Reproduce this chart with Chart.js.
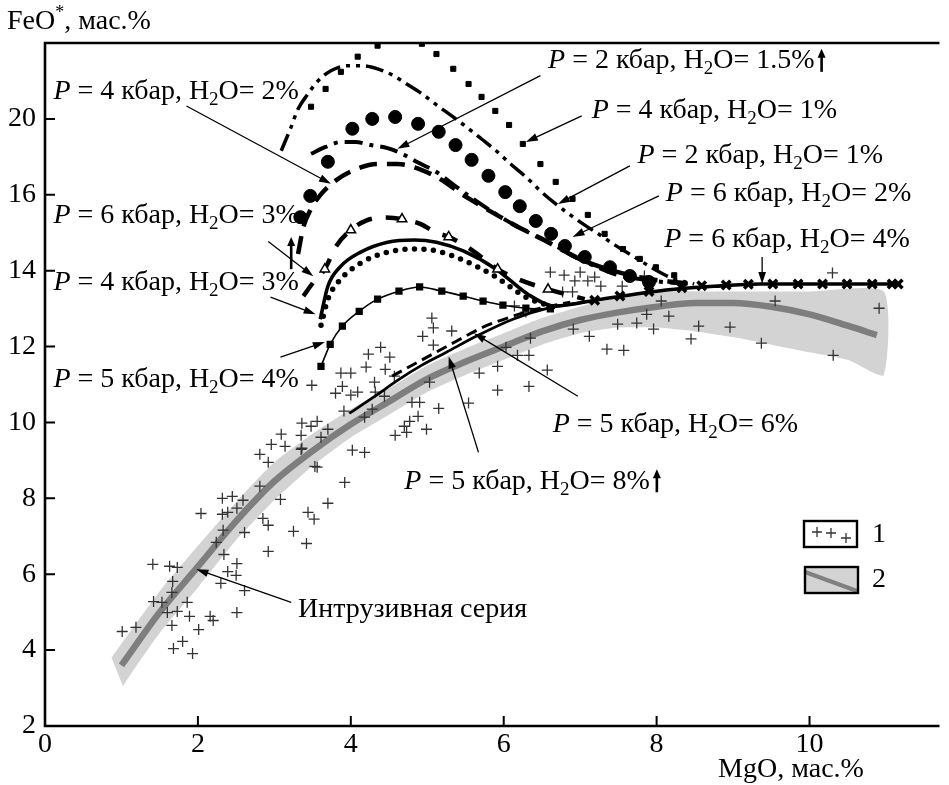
<!DOCTYPE html>
<html>
<head>
<meta charset="utf-8">
<script src="https://cdn.jsdelivr.net/npm/chart.js@4.4.1/dist/chart.umd.min.js"></script>
<style>
  html, body { margin: 0; padding: 0; background: #fff; }
  #wrap { width: 949px; height: 785px; position: relative; }
</style>
</head>
<body>
<div id="wrap"><canvas id="chart"></canvas></div>
<script>
// axes
const xTicks = [0, 2, 4, 6, 8, 10];
const yTicks = [2, 4, 6, 8, 10, 12, 14, 16, 18];
const yTickLabels = ["2", "4", "6", "8", "10", "12", "14", "16", "20"];

// intrusive series trend (2) and its band
const trendX = [1.0, 1.5, 2.0, 2.5, 3.0, 3.5, 4.0, 4.5, 5.0, 5.5, 6.0, 6.5, 7.0, 7.5, 8.0, 8.5, 9.0, 9.5, 10.0, 10.5, 10.88];
const trendY = [3.6, 5.0, 6.2, 7.4, 8.45, 9.25, 9.95, 10.55, 11.15, 11.6, 12.0, 12.4, 12.7, 12.9, 13.05, 13.15, 13.15, 13.05, 12.85, 12.55, 12.3];
const bandTopX = [0.87, 1.5, 2.0, 2.5, 3.0, 3.5, 4.0, 4.5, 5.0, 5.5, 6.0, 6.5, 7.0, 7.5, 8.0, 9.0, 10.0, 10.97];
const bandTopY = [3.8, 5.55, 6.75, 7.9, 8.95, 9.7, 10.35, 10.9, 11.5, 11.95, 12.35, 12.75, 13.05, 13.3, 13.45, 13.45, 13.45, 13.45];
const bandBotX = [10.97, 10.5, 10.0, 9.5, 9.0, 8.5, 8.0, 7.5, 7.0, 6.5, 6.0, 5.5, 5.0, 4.5, 4.0, 3.5, 3.0, 2.5, 2.0, 1.5, 1.15, 1.02];
const bandBotY = [11.25, 11.65, 11.85, 12.05, 12.25, 12.4, 12.5, 12.5, 12.35, 12.05, 11.65, 11.25, 10.8, 10.2, 9.6, 8.85, 7.95, 6.9, 5.65, 4.45, 3.45, 3.05];

// intrusive series samples (1)
const crossX = [1.01, 1.19, 1.41, 1.63, 1.73, 1.67, 1.66, 1.42, 1.53, 1.60, 1.73, 1.86, 1.89, 1.66, 2.01, 1.68, 1.80, 1.93, 2.16, 2.20,
  2.51, 2.61, 2.30, 2.39, 2.50, 2.51, 2.34, 2.24, 2.33, 2.61, 2.32, 2.39, 2.51, 2.04, 2.32, 2.45, 2.59, 2.81, 2.85, 2.92,
  2.92, 3.08, 3.25, 3.42, 3.44, 3.52, 2.81, 2.92, 2.96, 3.09, 3.14, 3.35, 3.35, 3.53, 5.06, 5.08, 4.94, 5.32, 5.08, 4.39,
  4.23, 4.51, 4.20, 4.45, 3.87, 4.00, 4.31, 4.57, 3.49, 3.89, 3.80, 4.00, 4.09, 4.32, 4.28, 4.44, 3.91, 4.18, 3.56, 3.36,
  3.70, 3.61, 3.48, 3.36, 4.80, 4.90, 5.15, 4.77, 4.88, 4.70, 4.58, 4.73, 4.99, 5.03, 5.54, 5.68, 5.92, 5.92, 6.33, 6.57,
  6.03, 6.18, 6.33, 6.35, 6.91, 7.12, 7.35, 4.02, 4.18, 3.56, 3.92, 6.61, 6.79, 7.00, 7.19, 6.93, 7.10, 6.77, 6.90, 7.27,
  6.14, 6.29, 3.70, 7.55, 7.84, 7.87, 8.06, 8.16, 7.49, 7.74, 7.96, 7.57, 8.55, 8.45, 8.96, 9.37, 9.55, 10.30, 10.31, 10.91];
const crossY = [4.49, 4.60, 6.26, 6.21, 6.18, 5.81, 5.52, 5.28, 5.26, 4.99, 5.02, 5.26, 4.89, 4.65, 4.54, 4.04, 4.23, 3.91, 4.89, 4.78,
  4.99, 5.57, 5.76, 6.07, 5.97, 6.28, 6.52, 6.84, 7.16, 7.10, 7.58, 7.63, 7.74, 7.60, 8.00, 8.05, 7.95, 8.32, 7.47, 7.29,
  6.60, 7.97, 7.13, 6.81, 7.63, 7.45, 9.16, 8.95, 9.42, 9.69, 9.37, 9.66, 9.29, 8.84, 12.75, 12.49, 12.27, 12.41, 12.04, 11.98,
  11.80, 11.72, 11.46, 11.40, 11.30, 11.30, 11.06, 11.22, 10.98, 10.95, 10.77, 10.72, 10.80, 10.80, 10.35, 10.69, 10.30, 10.14, 10.03, 9.98,
  9.82, 9.61, 9.90, 9.32, 10.53, 10.53, 10.37, 10.03, 10.16, 9.90, 9.66, 9.74, 9.82, 11.06, 10.51, 11.30, 11.48, 10.85, 10.95, 11.38,
  11.98, 11.77, 11.77, 12.22, 12.46, 12.27, 11.93, 9.27, 9.21, 8.82, 8.42, 13.96, 13.88, 13.96, 13.83, 13.73, 13.73, 13.44, 13.44, 13.59,
  13.07, 12.91, 7.87, 13.59, 13.86, 12.85, 13.20, 12.80, 12.59, 12.62, 12.46, 11.90, 12.54, 12.20, 12.51, 12.09, 13.20, 13.94, 11.77, 13.01];

// model trends
const p6h4X = [3.60, 3.70, 3.87, 4.13, 4.48, 4.83, 5.12, 5.47, 5.90, 6.33, 6.68, 7.19, 7.71, 8.23, 8.75, 9.35, 11.16];
const p6h4Y = [12.72, 13.59, 14.12, 14.49, 14.75, 14.81, 14.75, 14.52, 14.04, 13.36, 13.07, 13.22, 13.38, 13.51, 13.59, 13.65, 13.65];
const p6h4MarkX = [7.19, 7.52, 7.90, 8.33, 8.59, 8.91, 9.20, 9.52, 9.85, 10.17, 10.49, 10.82, 11.08, 11.16];
const p6h4MarkY = [13.22, 13.33, 13.45, 13.55, 13.60, 13.62, 13.64, 13.65, 13.65, 13.65, 13.65, 13.65, 13.65, 13.65];
const p4h3X = [3.61, 3.70, 3.87, 4.13, 4.48, 4.83, 5.12, 5.47, 5.90, 6.29, 6.74];
const p4h3Y = [12.56, 13.25, 13.78, 14.20, 14.49, 14.57, 14.52, 14.28, 13.83, 13.30, 12.99];
const p5h4X = [3.61, 3.73, 3.89, 4.11, 4.35, 4.63, 4.90, 5.19, 5.47, 5.73, 5.99, 6.29, 6.61];
const p5h4Y = [11.48, 12.06, 12.54, 12.93, 13.25, 13.46, 13.57, 13.46, 13.33, 13.20, 13.09, 13.01, 12.99];
const p6h3X = [3.38, 3.52, 3.66, 3.80, 4.00, 4.20, 4.45, 4.67, 4.90, 5.12, 5.28, 5.58, 5.92, 6.22, 6.58, 7.06];
const p6h3Y = [13.33, 13.72, 14.04, 14.62, 15.07, 15.32, 15.40, 15.36, 15.24, 15.00, 14.89, 14.55, 14.04, 13.75, 13.51, 13.25];
const p6h3TriX = [3.66, 4.00, 4.67, 5.28, 5.92, 6.58];
const p6h3TriY = [14.04, 15.07, 15.36, 14.89, 14.04, 13.51];
const p4h2X = [3.31, 3.38, 3.48, 3.60, 3.76, 4.02, 4.35, 4.61, 4.93, 5.19, 5.45, 5.71, 5.96, 6.22, 6.48, 6.74, 7.06, 7.45, 7.84, 8.23, 8.49];
const p4h2Y = [14.44, 15.15, 15.63, 15.99, 16.31, 16.63, 16.81, 16.81, 16.65, 16.39, 16.02, 15.70, 15.41, 15.12, 14.86, 14.57, 14.25, 13.99, 13.80, 13.70, 13.65];
const p2h15X = [3.48, 3.67, 3.87, 4.06, 4.26, 4.48, 4.67, 4.86, 5.12, 5.38, 5.60, 5.90, 6.16, 6.42, 6.68, 6.93, 7.19, 7.45, 7.78, 8.10, 8.49];
const p2h15Y = [17.08, 17.26, 17.39, 17.39, 17.31, 17.23, 17.08, 16.87, 16.60, 16.21, 15.89, 15.49, 15.18, 14.91, 14.65, 14.36, 14.12, 13.91, 13.78, 13.70, 13.65];
const p2h1X = [3.09, 3.21, 3.31, 3.44, 3.57, 3.74, 3.96, 4.15, 4.35, 4.54, 4.73, 4.93, 5.12, 5.32, 5.51, 5.71, 5.90, 6.09, 6.29, 6.48,
  6.68, 6.87, 7.06, 7.26, 7.45, 7.71, 7.97, 8.23, 8.49];
const p2h1Y = [17.16, 17.74, 18.26, 18.66, 19.00, 19.27, 19.40, 19.40, 19.32, 19.16, 18.92, 18.66, 18.37, 18.08, 17.79, 17.47, 17.16, 16.81, 16.47, 16.10,
  15.76, 15.47, 15.20, 14.94, 14.68, 14.36, 14.04, 13.78, 13.65];
const p4h1X = [3.48, 3.67, 3.87, 4.09, 4.35, 4.93, 5.12, 5.34, 5.54, 5.71, 5.89, 6.07, 6.25, 6.48, 6.68, 6.90, 7.10, 7.32, 7.56, 7.78, 7.99, 8.23];
const p4h1Y = [18.32, 18.79, 19.24, 19.64, 19.93, 19.98, 19.71, 19.32, 18.92, 18.58, 18.21, 17.84, 17.34, 16.81, 16.34, 15.89, 15.47, 14.97, 14.57, 14.31, 14.09, 13.88];
const p6h2X = [3.34, 3.47, 3.70, 4.02, 4.28, 4.58, 4.88, 5.15, 5.37, 5.58, 5.80, 6.02, 6.21, 6.42, 6.62, 6.80, 7.06, 7.39, 7.65, 7.90];
const p6h2Y = [15.41, 15.97, 16.87, 17.74, 18.00, 18.05, 17.87, 17.66, 17.31, 16.92, 16.50, 16.07, 15.70, 15.31, 14.97, 14.65, 14.36, 14.09, 13.86, 13.70];
const p5h6X = [4.54, 4.95, 5.38, 5.73, 6.12, 6.48, 6.87];
const p5h6Y = [11.22, 11.67, 12.14, 12.51, 12.80, 13.01, 13.17];
const p5h8X = [3.98, 4.35, 4.61, 4.93, 5.25, 5.64, 6.12, 6.58, 7.06];
const p5h8Y = [10.24, 10.74, 11.11, 11.51, 11.85, 12.27, 12.72, 13.01, 13.17];

// curve labels: text anchor, arrow from -> to (data units)
const notes = [
  { p: "2", w: "1.5", tx: 6.58, ty: 19.53, from: [6.48, 19.14], to: [4.61, 17.21], up: true },
  { p: "4", w: "1", tx: 7.15, ty: 18.21, from: [7.02, 18.08], to: [6.29, 17.39] },
  { p: "2", w: "1", tx: 7.75, ty: 17.02, from: [7.65, 16.76], to: [6.71, 15.76] },
  { p: "6", w: "2", tx: 8.12, ty: 16.02, from: [8.03, 15.97], to: [6.90, 14.89] },
  { p: "6", w: "4", tx: 8.10, ty: 14.83, from: [9.38, 14.36], to: [9.38, 13.65] },
  { p: "4", w: "2", tx: 0.11, ty: 18.71, from: [1.85, 18.34], to: [3.74, 16.29] },
  { p: "6", w: "3", tx: 0.11, ty: 15.44, from: [2.92, 14.77], to: [3.51, 13.85] },
  { p: "4", w: "3", tx: 0.11, ty: 13.69, from: [2.95, 13.30], to: [3.54, 12.85] },
  { p: "5", w: "4", tx: 0.11, ty: 11.14, from: [3.08, 11.72], to: [3.66, 12.12] },
  { p: "5", w: "6", tx: 6.64, ty: 9.95, from: [6.97, 10.69], to: [5.61, 12.35] },
  { p: "5", w: "8", tx: 4.70, ty: 8.45, from: [5.67, 9.21], to: [5.28, 11.74], up: true }
];
const seriesNote = { text: "Интрузивная серия", tx: 3.31, ty: 5.07, from: [3.22, 5.26], to: [1.98, 6.13] };
const upMark = { x: 3.22, y1: 14.04, y2: 14.89 };

const SERIF = '"Liberation Serif", "Times New Roman", "DejaVu Serif", serif';
const FS = 28;
const pts = (xs, ys) => xs.map((x, i) => ({ x: x, y: ys[i] }));

function arrow(ctx, x1, y1, x2, y2) {
  const ang = Math.atan2(y2 - y1, x2 - x1);
  ctx.lineWidth = 1.3;
  ctx.beginPath();
  ctx.moveTo(x1, y1);
  ctx.lineTo(x2 - 8 * Math.cos(ang), y2 - 8 * Math.sin(ang));
  ctx.stroke();
  ctx.beginPath();
  ctx.moveTo(x2, y2);
  ctx.lineTo(x2 - 12 * Math.cos(ang) + 3.8 * Math.sin(ang), y2 - 12 * Math.sin(ang) - 3.8 * Math.cos(ang));
  ctx.lineTo(x2 - 12 * Math.cos(ang) - 3.8 * Math.sin(ang), y2 - 12 * Math.sin(ang) + 3.8 * Math.cos(ang));
  ctx.closePath();
  ctx.fill();
}

function upArrow(ctx, x, yb, yt) {
  ctx.lineWidth = 2.6;
  ctx.beginPath();
  ctx.moveTo(x, yb);
  ctx.lineTo(x, yt + 6);
  ctx.stroke();
  ctx.beginPath();
  ctx.moveTo(x, yt);
  ctx.lineTo(x - 4, yt + 9);
  ctx.lineTo(x + 4, yt + 9);
  ctx.closePath();
  ctx.fill();
}

function richLabel(ctx, x, y, p, w) {
  const parts = [
    ["P", "italic " + FS + "px " + SERIF, 0],
    [" = " + p + " кбар, H", FS + "px " + SERIF, 0],
    ["2", Math.round(FS * 0.68) + "px " + SERIF, FS * 0.3],
    ["O= " + w + "%", FS + "px " + SERIF, 0]
  ];
  let cx = x;
  parts.forEach(function (pt) {
    ctx.font = pt[1];
    ctx.fillText(pt[0], cx, y + pt[2]);
    cx += ctx.measureText(pt[0]).width;
  });
  return cx;
}

const decor = {
  id: "decor",
  afterDraw(chart) {
    const ctx = chart.ctx;
    const a = chart.chartArea;
    const sx = chart.scales.x;
    const sy = chart.scales.y;
    const X = (v) => sx.getPixelForValue(v);
    const Y = (v) => sy.getPixelForValue(v);
    ctx.save();
    ctx.strokeStyle = "#000";
    ctx.fillStyle = "#000";

    // frame: top, left, bottom
    ctx.lineWidth = 2.6;
    ctx.beginPath();
    ctx.moveTo(a.right, a.top);
    ctx.lineTo(a.left, a.top);
    ctx.lineTo(a.left, a.bottom);
    ctx.lineTo(a.right, a.bottom);
    ctx.stroke();

    // inward ticks
    ctx.lineWidth = 2;
    ctx.beginPath();
    xTicks.forEach(function (v) {
      ctx.moveTo(X(v), a.bottom);
      ctx.lineTo(X(v), a.bottom - 10);
    });
    yTicks.forEach(function (v) {
      ctx.moveTo(a.left, Y(v));
      ctx.lineTo(a.left + 10, Y(v));
    });
    ctx.stroke();

    // tick labels
    ctx.font = FS + "px " + SERIF;
    ctx.textBaseline = "middle";
    ctx.textAlign = "center";
    xTicks.forEach(function (v) {
      ctx.fillText(String(v), X(v), a.bottom + 19);
    });
    ctx.textAlign = "right";
    yTicks.forEach(function (v, i) {
      ctx.fillText(yTickLabels[i], a.left - 9, Y(v));
    });

    // axis titles
    ctx.textAlign = "left";
    ctx.fillText("FeO", 7, 22);
    let w = ctx.measureText("FeO").width;
    ctx.font = "18px " + SERIF;
    ctx.fillText("*", 7 + w, 13);
    w += ctx.measureText("*").width;
    ctx.font = FS + "px " + SERIF;
    ctx.fillText(", мас.%", 7 + w, 22);
    ctx.textAlign = "center";
    ctx.fillText("MgO, мас.%", 791, 770);

    // curve labels and leaders
    ctx.textAlign = "left";
    notes.forEach(function (n) {
      const end = richLabel(ctx, X(n.tx), Y(n.ty), n.p, n.w);
      if (n.up) upArrow(ctx, end + 7, Y(n.ty) + 11, Y(n.ty) - 12);
      arrow(ctx, X(n.from[0]), Y(n.from[1]), X(n.to[0]), Y(n.to[1]));
    });
    ctx.font = FS + "px " + SERIF;
    ctx.fillText(seriesNote.text, X(seriesNote.tx), Y(seriesNote.ty));
    arrow(ctx, X(seriesNote.from[0]), Y(seriesNote.from[1]), X(seriesNote.to[0]), Y(seriesNote.to[1]));
    upArrow(ctx, X(upMark.x), Y(upMark.y1), Y(upMark.y2));

    // legend
    ctx.lineWidth = 2.4;
    ctx.fillStyle = "#fff";
    ctx.fillRect(804, 521, 53, 26);
    ctx.strokeRect(804, 521, 53, 26);
    ctx.fillStyle = "#d3d3d3";
    ctx.fillRect(805, 567, 53, 26);
    ctx.save();
    ctx.beginPath();
    ctx.rect(805, 567, 53, 26);
    ctx.clip();
    ctx.strokeStyle = "#808080";
    ctx.lineWidth = 4;
    ctx.beginPath();
    ctx.moveTo(805, 572);
    ctx.lineTo(857, 591);
    ctx.stroke();
    ctx.restore();
    ctx.lineWidth = 2.4;
    ctx.strokeRect(805, 567, 53, 26);
    ctx.strokeStyle = "#333";
    ctx.lineWidth = 1.3;
    [[817, 532], [831, 533], [846, 538]].forEach(function (c) {
      ctx.beginPath();
      ctx.moveTo(c[0] - 5, c[1]);
      ctx.lineTo(c[0] + 5, c[1]);
      ctx.moveTo(c[0], c[1] - 5);
      ctx.lineTo(c[0], c[1] + 5);
      ctx.stroke();
    });
    ctx.fillStyle = "#000";
    ctx.font = FS + "px " + SERIF;
    ctx.textAlign = "left";
    ctx.fillText("1", 872, 535);
    ctx.fillText("2", 872, 580);
    ctx.restore();
  }
};

const lineBase = { showLine: true, pointRadius: 0, borderColor: "#000", borderWidth: 3, cubicInterpolationMode: "monotone", fill: false };
const dotBase = { showLine: false, pointBorderColor: "#000", pointBackgroundColor: "#000" };

const ctx = document.getElementById("chart").getContext("2d");
const myChart = new Chart(ctx, {
  type: "line",
  data: {
    datasets: [
      Object.assign({}, lineBase, { label: "band", data: pts(bandTopX, bandTopY).concat(pts(bandBotX, bandBotY)),
        borderWidth: 0, borderColor: "rgba(0,0,0,0)", backgroundColor: "#d3d3d3", fill: "shape", tension: 0.2, cubicInterpolationMode: "default", order: 40 }),
      Object.assign({}, lineBase, { label: "trend", data: pts(trendX, trendY), borderColor: "#7e7e7e", borderWidth: 6.5, order: 39 }),
      Object.assign({}, dotBase, { label: "samples", data: pts(crossX, crossY), pointStyle: "cross", pointRadius: 5.5,
        pointBorderColor: "#333", pointBorderWidth: 1.3, order: 38 }),
      Object.assign({}, lineBase, { label: "P5 H2O8", data: pts(p5h8X, p5h8Y), borderWidth: 2.8, order: 12 }),
      Object.assign({}, lineBase, { label: "P5 H2O6", data: pts(p5h6X, p5h6Y), borderWidth: 3, borderDash: [11, 6], order: 12 }),
      Object.assign({}, lineBase, { label: "P5 H2O4", data: pts(p5h4X, p5h4Y), borderWidth: 1.6, pointRadius: 4,
        pointStyle: "rect", pointBackgroundColor: "#000", pointBorderColor: "#000", order: 11 }),
      Object.assign({}, lineBase, { label: "P4 H2O3", data: pts(p4h3X, p4h3Y), borderWidth: 5.5, borderDash: [0, 9.5], borderCapStyle: "round", order: 11 }),
      Object.assign({}, lineBase, { label: "P6 H2O4", data: pts(p6h4X, p6h4Y), borderWidth: 3.6, order: 10 }),
      Object.assign({}, dotBase, { label: "P6 H2O4 marks", data: pts(p6h4MarkX, p6h4MarkY), pointStyle: "crossRot", pointRadius: 6, pointBorderWidth: 3.5, order: 9 }),
      Object.assign({}, lineBase, { label: "P6 H2O3", data: pts(p6h3X, p6h3Y), borderWidth: 4.5, borderDash: [16, 14], order: 11 }),
      Object.assign({}, dotBase, { label: "P6 H2O3 marks", data: pts(p6h3TriX, p6h3TriY), pointStyle: "triangle", pointRadius: 5.5,
        pointBackgroundColor: "#fff", pointBorderWidth: 1.5, order: 8 }),
      Object.assign({}, lineBase, { label: "P4 H2O2", data: pts(p4h2X, p4h2Y), borderWidth: 4.5, borderDash: [18, 10], order: 11 }),
      Object.assign({}, lineBase, { label: "P2 H2O1.5", data: pts(p2h15X, p2h15Y), borderWidth: 4, borderDash: [18, 7, 4, 7], order: 11 }),
      Object.assign({}, lineBase, { label: "P2 H2O1", data: pts(p2h1X, p2h1Y), borderWidth: 3.5, borderDash: [18, 6, 4, 6, 4, 6], order: 11 }),
      Object.assign({}, dotBase, { label: "P4 H2O1", data: pts(p4h1X, p4h1Y), pointStyle: "rect", pointRadius: 3.6, order: 8 }),
      Object.assign({}, dotBase, { label: "P6 H2O2", data: pts(p6h2X, p6h2Y), pointStyle: "circle", pointRadius: 6.5, order: 8 })
    ]
  },
  options: {
    responsive: true,
    maintainAspectRatio: false,
    animation: false,
    layout: { padding: { left: 45, top: 43, right: 0, bottom: 59 } },
    plugins: { legend: { display: false }, tooltip: { enabled: false } },
    elements: { point: { radius: 0, hoverRadius: 0 } },
    scales: {
      x: { type: "linear", min: 0, max: 11.7, display: false },
      y: { type: "linear", min: 2, max: 20, display: false }
    }
  },
  plugins: [decor]
});
</script>
</body>
</html>
